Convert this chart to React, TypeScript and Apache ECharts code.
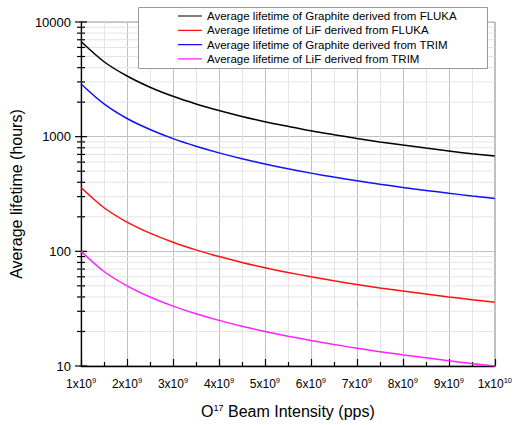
import React, { useEffect, useRef } from "react";
import * as echarts from "echarts";

// Beam intensity in units of 1e9 pps
const intensity = [1, 1.5, 2, 2.5, 3, 3.5, 4, 4.5, 5, 5.5, 6, 6.5, 7, 7.5, 8, 8.5, 9, 9.5, 10];
const graphiteFluka = [6750, 4500, 3380, 2700, 2250, 1930, 1690, 1500, 1350, 1230, 1125, 1040, 965, 900, 845, 795, 750, 710, 678];
const lifFluka = [360, 240, 180, 144, 120, 103, 90, 80, 72, 65.5, 60, 55.4, 51.4, 48, 45, 42.4, 40, 37.9, 36];
const graphiteTrim = [2880, 1930, 1440, 1155, 962, 825, 722, 642, 578, 525, 481, 444, 413, 385, 361, 340, 321, 304, 289];
const lifTrim = [100, 66.7, 50, 40, 33.3, 28.6, 25, 22.2, 20, 18.2, 16.7, 15.4, 14.3, 13.3, 12.5, 11.8, 11.1, 10.5, 10.0];

const seriesNames = [
  "Average lifetime of Graphite derived from FLUKA",
  "Average lifetime of LiF derived from FLUKA",
  "Average lifetime of Graphite derived from TRIM",
  "Average lifetime of LiF derived from TRIM",
];
const seriesColors = ["#000000", "#ff1010", "#1010ff", "#ff20ff"];

const yMajor = [10, 100, 1000, 10000];
const yMinor = [20, 30, 40, 50, 60, 70, 80, 90, 200, 300, 400, 500, 600, 700, 800, 900, 2000, 3000, 4000, 5000, 6000, 7000, 8000, 9000];

const X_MIN = 1e9;
const X_MAX = 1e10;
const FONT = "'Liberation Sans', Arial, sans-serif";

export default function App() {
  const ref = useRef<HTMLDivElement>(null);
  useEffect(() => {
    if (!ref.current) return;
    const chart = echarts.init(ref.current, undefined, { renderer: "svg" });
    const toPairs = (vals: number[]) => intensity.map((x, i) => [x * 1e9, vals[i]]);
    const allSeriesData = [graphiteFluka, lifFluka, graphiteTrim, lifTrim];
    const tickData = [
      ...yMinor.map((v) => [X_MIN, v, 0]),
      ...yMajor.map((v) => [X_MIN, v, 1]),
    ];
    chart.setOption({
      animation: false,
      grid: {
        left: 76,
        right: 18,
        top: 22,
        bottom: 59,
        show: true,
        borderColor: "#a0a0a0",
        borderWidth: 1,
        backgroundColor: "transparent",
      },
      graphic: [
        {
          type: "rect",
          z: 3,
          silent: true,
          shape: { x: 138.5, y: 7.5, width: 349, height: 61 },
          style: { fill: "#ffffff", stroke: "#999999", lineWidth: 1 },
        },
      ],
      legend: {
        orient: "vertical",
        left: 138,
        top: 7,
        z: 4,
        padding: [3, 0, 3, 40],
        itemWidth: 24,
        itemHeight: 12,
        itemGap: 2.3,
        icon: "path://M0,5.4 H24 V6.6 H0 Z M0,0 H0.01 V0.01 H0 Z M24,12 H23.99 V11.99 H24 Z",
        data: seriesNames,
        textStyle: { fontFamily: FONT, fontSize: 11.5, color: "#000", lineHeight: 12 },
      },
      xAxis: {
        type: "value",
        min: X_MIN,
        max: X_MAX,
        interval: 1e9,
        name: "O{s|17} Beam Intensity (pps)",
        nameLocation: "middle",
        nameGap: 37,
        nameTextStyle: {
          fontFamily: FONT,
          fontSize: 16,
          color: "#000",
          rich: {
            s: { fontFamily: FONT, fontSize: 9, color: "#000", verticalAlign: "top", padding: [0, 0, 6, 0] },
          },
        },
        axisLine: { show: true, lineStyle: { color: "#000", width: 1.3 } },
        axisTick: { show: true, inside: true, length: 7, lineStyle: { color: "#000", width: 1.2 } },
        minorTick: { show: true, splitNumber: 2, length: 4, lineStyle: { color: "#000", width: 1.2 } },
        splitLine: { show: true, lineStyle: { color: "#c0c0c0", width: 1 } },
        minorSplitLine: { show: true, lineStyle: { color: "#e4e4e4", width: 1 } },
        axisLabel: {
          margin: 10,
          fontFamily: FONT,
          color: "#000",
          formatter: (v: number) => {
            const e = Math.floor(Math.log10(v) + 1e-9);
            const m = Math.round(v / Math.pow(10, e));
            return `{b|${m}x10}{s|${e}}`;
          },
          rich: {
            b: { fontFamily: FONT, fontSize: 12, color: "#000", lineHeight: 16 },
            s: { fontFamily: FONT, fontSize: 7.5, color: "#000", verticalAlign: "top", padding: [0, 0, 7, 0] },
          },
        },
      },
      yAxis: {
        type: "log",
        logBase: 10,
        min: 10,
        max: 10000,
        name: "Average lifetime (hours)",
        nameLocation: "middle",
        nameGap: 50,
        nameTextStyle: { fontFamily: FONT, fontSize: 16, color: "#000" },
        axisLine: { show: true, lineStyle: { color: "#000", width: 1.3 } },
        axisTick: { show: false },
        splitLine: { show: true, lineStyle: { color: "#c0c0c0", width: 1 } },
        axisLabel: {
          fontFamily: FONT,
          fontSize: 13,
          color: "#000",
          margin: 10,
          formatter: (v: number) => String(Math.round(v)),
        },
      },
      series: [
        {
          type: "custom",
          silent: true,
          clip: false,
          z: 1,
          data: tickData,
          renderItem: (params: any, api: any) => {
            const cs = params.coordSys;
            const v = api.value(1);
            const major = api.value(2) === 1;
            const y = api.coord([X_MIN, v])[1];
            const children: any[] = [];
            if (!major) {
              children.push({
                type: "line",
                shape: { x1: cs.x, y1: y, x2: cs.x + cs.width, y2: y },
                style: { stroke: "#e4e4e4", lineWidth: 1 },
              });
            }
            const len = major ? 6 : 4;
            children.push({
              type: "line",
              shape: { x1: cs.x - len, y1: y, x2: cs.x + len, y2: y },
              style: { stroke: "#000", lineWidth: 1.2 },
              z2: 10,
            });
            return { type: "group", children };
          },
        },
        ...seriesNames.map((name, i) => ({
          type: "line",
          name,
          data: toPairs(allSeriesData[i]),
          smooth: 0.3,
          symbol: "none",
          z: 5,
          lineStyle: { color: seriesColors[i], width: 1.5 },
          itemStyle: { color: seriesColors[i] },
        })),
      ],
    });
    return () => chart.dispose();
  }, []);
  return (
    <div
      ref={ref}
      style={{ position: "absolute", left: 0, top: 0, width: 515, height: 425, background: "#fff" }}
    />
  );
}
